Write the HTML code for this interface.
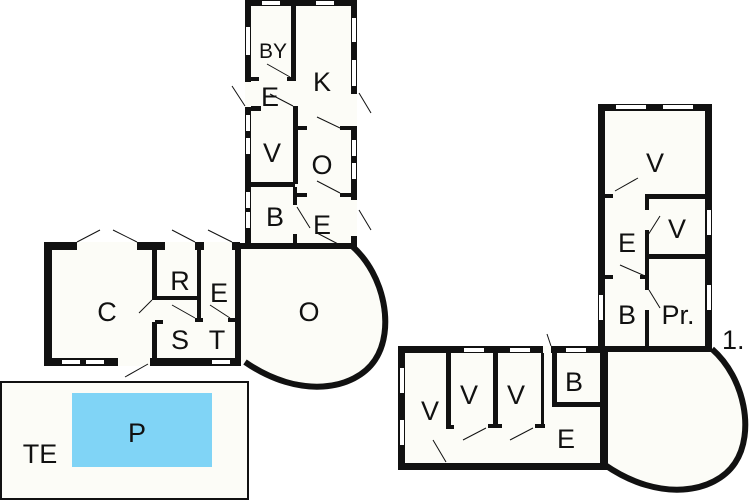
<!DOCTYPE html>
<html><head><meta charset="utf-8"><style>
html,body{margin:0;padding:0;background:#fff;}
svg{display:block;}
text{font-family:"Liberation Sans",sans-serif;fill:#111;}
</style></head><body>
<svg width="750" height="500" viewBox="0 0 750 500" xmlns="http://www.w3.org/2000/svg">
<!-- pool area -->
<rect x="1" y="382" width="247" height="117" fill="#fcfcf7" stroke="#111" stroke-width="2"/>
<rect x="72" y="393" width="140" height="74" fill="#80d4f6"/>
<text x="137" y="442" font-size="27" text-anchor="middle">P</text>
<text x="40" y="463" font-size="27" text-anchor="middle">TE</text>

<!-- LEFT upper column -->
<rect x="245" y="0" width="112" height="250" fill="#111"/>
<rect x="251" y="6" width="100" height="238" fill="#fcfcf7"/>
<g fill="#fff">
<rect x="262" y="1" width="18" height="4"/><rect x="316" y="1" width="18" height="4"/>
<rect x="246" y="27" width="4" height="28"/><rect x="246" y="115" width="4" height="16"/><rect x="246" y="138" width="4" height="16"/>
<rect x="246" y="192" width="4" height="16"/><rect x="246" y="212" width="4" height="16"/>
<rect x="352" y="18" width="4" height="24"/><rect x="352" y="60" width="4" height="26"/>
<rect x="352" y="140" width="4" height="16"/><rect x="352" y="163" width="4" height="16"/>
<rect x="245" y="82" width="6" height="25" fill="#fcfcf7"/><rect x="351" y="94" width="6" height="32" fill="#fcfcf7"/>
<rect x="351" y="200" width="6" height="36" fill="#fcfcf7"/>
</g>
<g fill="#111">
<rect x="291" y="6" width="5" height="74"/>
<rect x="251" y="77" width="8" height="4"/><rect x="287" y="77" width="9" height="4"/>
<rect x="251" y="106" width="10" height="5"/><rect x="293" y="106" width="5" height="78"/>
<rect x="251" y="182" width="44" height="5"/>
<rect x="295" y="126" width="12" height="4"/><rect x="340" y="126" width="12" height="4"/>
<rect x="295" y="193" width="12" height="4"/><rect x="340" y="193" width="12" height="4"/>
<rect x="293" y="187" width="4" height="18"/><rect x="293" y="234" width="4" height="12"/>
</g>
<text x="273" y="58" font-size="21" text-anchor="middle">BY</text>
<text x="322" y="91" font-size="27" text-anchor="middle">K</text>
<text x="270" y="106" font-size="27" text-anchor="middle">E</text>
<text x="272" y="162" font-size="27" text-anchor="middle">V</text>
<text x="322" y="174" font-size="27" text-anchor="middle">O</text>
<text x="275" y="226" font-size="27" text-anchor="middle">B</text>
<text x="322" y="234" font-size="27" text-anchor="middle">E</text>

<!-- left O round room -->
<path d="M238,246 L352,246 C385,275 395,330 375,360 C355,390 300,400 245,362 L238,362 Z" fill="#fcfcf7"/>
<path d="M352,246 C385,275 395,330 375,360 C355,390 300,400 245,362" fill="none" stroke="#111" stroke-width="6"/>
<rect x="232" y="243" width="120" height="6" fill="#111"/>
<rect x="235" y="243" width="6" height="123" fill="#111"/>
<text x="309" y="321" font-size="27" text-anchor="middle">O</text>

<!-- C block -->
<rect x="44" y="242" width="196" height="124" fill="#111"/>
<rect x="52" y="250" width="100" height="108" fill="#fcfcf7"/>
<rect x="157" y="250" width="78" height="108" fill="#fcfcf7"/>
<rect x="77" y="242" width="60" height="8" fill="#fcfcf7"/>
<rect x="165" y="242" width="30" height="8" fill="#fcfcf7"/>
<rect x="204" y="242" width="28" height="8" fill="#fcfcf7"/>
<rect x="118" y="358" width="32" height="8" fill="#fcfcf7"/>
<rect x="152" y="300" width="5" height="22" fill="#fcfcf7"/>
<g fill="#fff"><rect x="62" y="360" width="18" height="4"/><rect x="86" y="360" width="18" height="4"/><rect x="212" y="360" width="18" height="4"/></g>
<g fill="#111">
<rect x="155" y="296" width="45" height="4"/><rect x="197" y="250" width="4" height="72"/>
<rect x="155" y="320" width="8" height="4"/><rect x="195" y="318" width="8" height="4"/>
<rect x="228" y="318" width="8" height="4"/>
</g>
<text x="107" y="321" font-size="27" text-anchor="middle">C</text>
<text x="180" y="290" font-size="27" text-anchor="middle">R</text>
<text x="219" y="302" font-size="27" text-anchor="middle">E</text>
<text x="180" y="349" font-size="27" text-anchor="middle">S</text>
<text x="217" y="349" font-size="27" text-anchor="middle">T</text>

<!-- RIGHT column -->
<rect x="598" y="104" width="114" height="246" fill="#111"/>
<rect x="605" y="111" width="100" height="236" fill="#fcfcf7"/>
<g fill="#111">
<rect x="645" y="194" width="62" height="5"/><rect x="645" y="194" width="4" height="155"/>
<rect x="649" y="254" width="58" height="5"/><rect x="605" y="194" width="8" height="4"/>
<rect x="605" y="275" width="8" height="4"/><rect x="640" y="275" width="8" height="4"/>
</g>
<g fill="#fcfcf7"><rect x="645" y="210" width="4" height="20"/><rect x="645" y="290" width="4" height="20"/><rect x="613" y="194" width="32" height="4"/><rect x="613" y="275" width="27" height="4"/></g>
<g fill="#fff"><rect x="616" y="105" width="30" height="4"/><rect x="663" y="105" width="30" height="4"/>
<rect x="707" y="210" width="4" height="25"/><rect x="707" y="285" width="4" height="25"/><rect x="599" y="295" width="4" height="25"/></g>
<text x="655" y="172" font-size="27" text-anchor="middle">V</text>
<text x="677" y="238" font-size="27" text-anchor="middle">V</text>
<text x="627" y="252" font-size="27" text-anchor="middle">E</text>
<text x="627" y="324" font-size="27" text-anchor="middle">B</text>
<text x="678" y="324" font-size="27" text-anchor="middle">Pr.</text>
<text x="722" y="349" font-size="27">1.</text>

<!-- right wing -->
<path d="M600,349 L712,349 C745,378 755,433 735,463 C715,493 660,503 605,465 L600,465 Z" fill="#fcfcf7"/>
<path d="M712,349 C745,378 755,433 735,463 C715,493 660,503 605,465" fill="none" stroke="#111" stroke-width="6"/>
<rect x="398" y="346" width="210" height="124" fill="#111"/>
<rect x="405" y="353" width="198" height="110" fill="#fcfcf7"/>
<rect x="543" y="346" width="8" height="7" fill="#fcfcf7"/>
<rect x="600" y="346" width="112" height="6" fill="#111"/>
<rect x="600" y="349" width="8" height="117" fill="#111"/>
<g fill="#fff"><rect x="464" y="348" width="20" height="4"/><rect x="510" y="348" width="20" height="4"/><rect x="566" y="348" width="20" height="4"/>
<rect x="400" y="368" width="4" height="25"/><rect x="400" y="420" width="4" height="25"/></g>
<g fill="#111">
<rect x="446" y="353" width="5" height="76"/><rect x="493" y="353" width="5" height="74"/>
<rect x="446" y="425" width="8" height="4"/><rect x="488" y="424" width="14" height="4"/><rect x="535" y="424" width="10" height="4"/>
<rect x="541" y="353" width="3" height="75"/>
<rect x="552" y="353" width="5" height="54"/><rect x="552" y="402" width="52" height="5"/>
</g>
<text x="430" y="420" font-size="27" text-anchor="middle">V</text>
<text x="469" y="404" font-size="27" text-anchor="middle">V</text>
<text x="516" y="404" font-size="27" text-anchor="middle">V</text>
<text x="574" y="391" font-size="27" text-anchor="middle">B</text>
<text x="566" y="448" font-size="27" text-anchor="middle">E</text>

<!-- door swing lines -->
<g stroke="#111" stroke-width="1" fill="none">
<line x1="267" y1="64" x2="290" y2="77"/><line x1="232" y1="86" x2="245" y2="106"/>
<line x1="270" y1="94" x2="293" y2="106"/><line x1="317" y1="117" x2="340" y2="128"/>
<line x1="359" y1="93" x2="371" y2="113"/><line x1="317" y1="181" x2="340" y2="193"/>
<line x1="297" y1="207" x2="310" y2="228"/><line x1="317" y1="233" x2="340" y2="245"/>
<line x1="359" y1="210" x2="371" y2="230"/>
<line x1="77" y1="242" x2="100" y2="230"/><line x1="113" y1="230" x2="137" y2="242"/>
<line x1="172" y1="230" x2="195" y2="242"/><line x1="208" y1="230" x2="232" y2="242"/>
<line x1="139" y1="313" x2="152" y2="300"/><line x1="172" y1="305" x2="195" y2="318"/>
<line x1="210" y1="305" x2="230" y2="318"/><line x1="125" y1="377" x2="148" y2="364"/>
<line x1="615" y1="191" x2="638" y2="178"/><line x1="620" y1="265" x2="645" y2="276"/>
<line x1="648" y1="235" x2="660" y2="216"/><line x1="649" y1="290" x2="660" y2="308"/>
<line x1="547" y1="334" x2="551" y2="346"/><line x1="433" y1="440" x2="446" y2="462"/>
<line x1="463" y1="440" x2="486" y2="428"/><line x1="510" y1="440" x2="533" y2="428"/>
</g>
</svg>
</body></html>
